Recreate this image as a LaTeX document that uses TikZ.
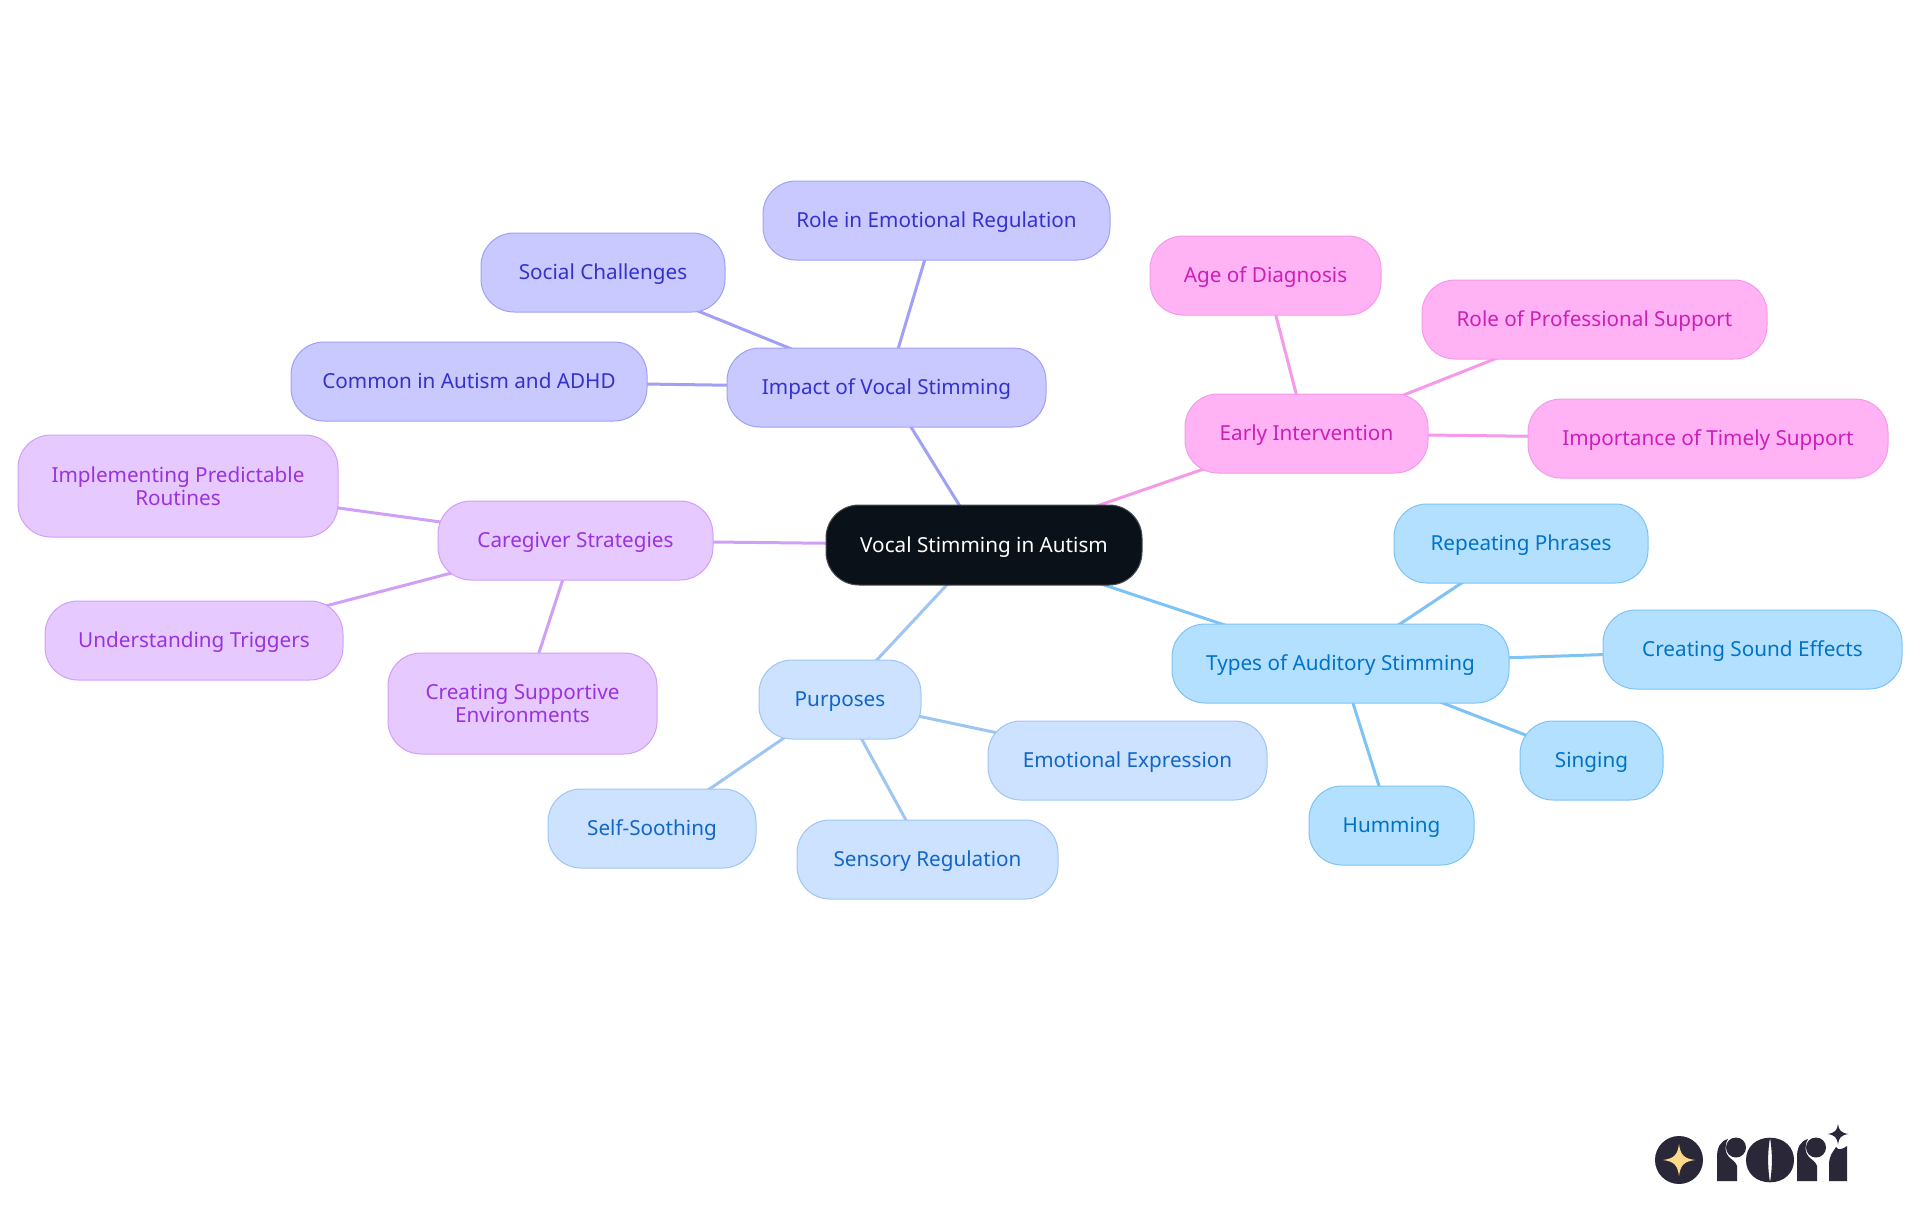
\documentclass[tikz,border=0pt]{standalone}
\usepackage{fontspec}
\setmainfont{Noto Sans}
\usetikzlibrary{backgrounds}
\definecolor{rootfill}{HTML}{0B1118}
\definecolor{bluefill}{HTML}{B3E0FF}\definecolor{blueline}{HTML}{7EC3F5}\definecolor{bluetext}{HTML}{0073C6}
\definecolor{palefill}{HTML}{CCE2FF}\definecolor{paleline}{HTML}{9FC6F2}\definecolor{paletext}{HTML}{1166C8}
\definecolor{indfill}{HTML}{C9C9FF}\definecolor{indline}{HTML}{A0A0F7}\definecolor{indtext}{HTML}{3333CC}
\definecolor{purfill}{HTML}{E6C9FF}\definecolor{purline}{HTML}{D0A0F7}\definecolor{purtext}{HTML}{9933DD}
\definecolor{pinkfill}{HTML}{FFB3F5}\definecolor{pinkline}{HTML}{F59AE8}\definecolor{pinktext}{HTML}{CC1FB8}
\definecolor{logodark}{HTML}{2A2838}\definecolor{logostar}{HTML}{FFD98A}
\tikzset{
 mm/.style={rounded corners=33pt,inner sep=0pt,outer sep=0pt,line width=1pt,align=center,text height=19pt,text depth=5pt,font=\fontsize{20.7}{22.5}\selectfont},
 two/.style={text height=,text depth=},
 blue/.style={mm,fill=bluefill,draw=blueline,text=bluetext},
 pale/.style={mm,fill=palefill,draw=paleline,text=paletext},
 ind/.style={mm,fill=indfill,draw=indline,text=indtext},
 pur/.style={mm,fill=purfill,draw=purline,text=purtext},
 pnk/.style={mm,fill=pinkfill,draw=pinkline,text=pinktext},
 rootbox/.style={mm,fill=rootfill,draw=rootfill!75!white,text=white},
 lnk/.style={line width=3pt},
}
% \mn{style}{name}{x0}{y0}{x1}{y1}{text}
\newcommand{\mn}[7]{\node[#1,minimum width=#5pt-#3pt,minimum height=#6pt-#4pt] (#2) at ({(#3+#5)/2},{(#4+#6)/2}) {#7};}
\begin{document}
\begin{tikzpicture}[x=1pt,y=-1pt]
\useasboundingbox (0,0) rectangle (1920,1215);
\mn{rootbox}{root}{826}{505}{1142}{585}{Vocal Stimming in Autism}
\mn{ind}{impact}{727}{348}{1046}{427}{Impact of Vocal Stimming}
\mn{ind}{role}{763}{181}{1110}{260}{Role in Emotional Regulation}
\mn{ind}{social}{481}{233}{725}{312}{Social Challenges}
\mn{ind}{common}{291}{342}{647}{421}{Common in Autism and ADHD}
\mn{pur}{care}{438}{501}{713}{580}{Caregiver Strategies}
\mn{pur,two}{impl}{18}{435}{338}{537}{Implementing Predictable\\Routines}
\mn{pur}{under}{45}{601}{343}{680}{Understanding Triggers}
\mn{pur,two}{supp}{388}{653}{657}{754}{Creating Supportive\\Environments}
\mn{pale}{purp}{759}{660}{921}{739}{Purposes}
\mn{pale}{emo}{988}{721}{1267}{800}{Emotional Expression}
\mn{pale}{sens}{797}{820}{1058}{899}{Sensory Regulation}
\mn{pale}{self}{548}{789}{756}{868}{Self-Soothing}
\mn{blue}{types}{1172}{624}{1509}{703}{Types of Auditory Stimming}
\mn{blue}{rep}{1394}{504}{1648}{583}{Repeating Phrases}
\mn{blue}{sound}{1603}{610}{1902}{689}{Creating Sound Effects}
\mn{blue}{sing}{1520}{721}{1663}{800}{Singing}
\mn{blue}{hum}{1309}{786}{1474}{865}{Humming}
\mn{pnk}{early}{1185}{394}{1428}{473}{Early Intervention}
\mn{pnk}{age}{1150}{236}{1381}{315}{Age of Diagnosis}
\mn{pnk}{prof}{1422}{280}{1767}{359}{Role of Professional Support}
\mn{pnk}{time}{1528}{399}{1888}{478}{Importance of Timely Support}
\begin{scope}[on background layer]
\fill[white] (0,0) rectangle (1920,1215);
\foreach \a/\b/\c in {root/impact/indline,impact/role/indline,impact/social/indline,impact/common/indline,
 root/care/purline,care/impl/purline,care/under/purline,care/supp/purline,
 root/purp/paleline,purp/emo/paleline,purp/sens/paleline,purp/self/paleline,
 root/types/blueline,types/rep/blueline,types/sound/blueline,types/sing/blueline,types/hum/blueline,
 root/early/pinkline,early/age/pinkline,early/prof/pinkline,early/time/pinkline}
 \draw[lnk,draw=\c] (\a.center) -- (\b.center);
\end{scope}
% logo
\fill[logodark] (1679,1160) circle (24);
\fill[logostar] (1679,1144) .. controls (1680.5,1155) and (1684,1158.5) .. (1695,1160) .. controls (1684,1161.5) and (1680.5,1165) .. (1679,1176) .. controls (1677.5,1165) and (1674,1161.5) .. (1663,1160) .. controls (1674,1158.5) and (1677.5,1155) .. (1679,1144) -- cycle;
\fill[logodark] (1717,1181) -- (1717,1157) .. controls (1717,1148) and (1720,1141) .. (1728,1139) .. controls (1724,1146) and (1725,1153) .. (1729,1157) .. controls (1732,1160) and (1736,1162) .. (1737,1166) -- (1737,1181) -- cycle;
\fill[logodark] (1736,1147.5) circle (10);
\fill[logodark] (1770,1137.7) .. controls (1756,1137.7) and (1746,1147) .. (1746,1160) .. controls (1746,1173) and (1756,1182.3) .. (1770,1182.3) .. controls (1767.5,1168) and (1767.5,1152) .. (1770,1137.7) -- cycle;
\fill[logodark] (1770,1137.7) .. controls (1784,1137.7) and (1794,1147) .. (1794,1160) .. controls (1794,1173) and (1784,1182.3) .. (1770,1182.3) .. controls (1772.5,1168) and (1772.5,1152) .. (1770,1137.7) -- cycle;
\fill[logodark] (1797,1181) -- (1797,1157) .. controls (1797,1148) and (1800,1141) .. (1808,1139) .. controls (1804,1146) and (1805,1153) .. (1809,1157) .. controls (1812,1160) and (1816,1162) .. (1817,1166) -- (1817,1181) -- cycle;
\fill[logodark] (1816,1147.5) circle (10);
\fill[logodark] (1829,1181) -- (1829,1165) .. controls (1829,1155) and (1833,1152) .. (1836,1147) .. controls (1838,1151) and (1843,1149) .. (1847,1146) -- (1847,1181) -- cycle;
\fill[logodark] (1838,1124) .. controls (1838.7,1130) and (1841,1133) .. (1848.5,1134) .. controls (1841,1135) and (1838.7,1138) .. (1838,1144.5) .. controls (1837.3,1138) and (1835,1135) .. (1827.5,1134) .. controls (1835,1133) and (1837.3,1130) .. (1838,1124) -- cycle;
\end{tikzpicture}
\end{document}
